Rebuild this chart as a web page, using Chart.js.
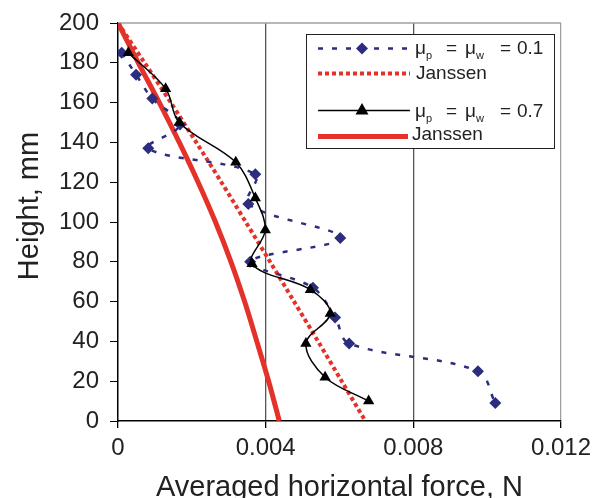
<!DOCTYPE html>
<html>
<head>
<meta charset="utf-8">
<script src="https://cdn.jsdelivr.net/npm/chart.js@4"></script>
<style>
  html, body { margin: 0; padding: 0; background: #fff; }
  #wrap { width: 595px; height: 498px; }
</style>
</head>
<body>
<div id="wrap"><canvas id="chart" width="595" height="498"></canvas></div>
<script>
// data
const heights01 = [185, 174, 162, 149, 137, 124, 109, 92, 80, 67, 52, 39, 25, 9];
const force01 = [0.0001, 0.00049, 0.00093, 0.00168, 0.00082, 0.00372, 0.00353, 0.00602, 0.00358, 0.00528, 0.00588, 0.00626, 0.00975, 0.01022];

const heights07 = [185, 167, 150, 130, 112, 96, 79, 66, 54, 39, 22, 10];
const force07 = [0.00028, 0.00129, 0.00166, 0.00319, 0.00372, 0.00399, 0.00363, 0.00521, 0.00575, 0.00509, 0.00561, 0.00679];

const janssenHeights = [200, 180, 160, 140, 120, 100, 80, 60, 40, 20, 0];
const janssen01 = [0, 0.00072, 0.00143, 0.00212, 0.0028, 0.00346, 0.00412, 0.00477, 0.00542, 0.00606, 0.0067];
const janssen07 = [0, 0.00055, 0.00112, 0.00166, 0.00217, 0.00264, 0.00306, 0.00343, 0.00376, 0.00408, 0.00437];

const xTickLabels = ['0', '0.004', '0.008', '0.012'];

const FONT = "'Liberation Sans', Arial, sans-serif";
const BLUE = '#2d2d7f';
const RED = '#e4322b';

function toPoints(xs, ys) {
  return xs.map((x, i) => ({ x: x, y: ys[i] }));
}

Chart.defaults.font.family = FONT;
Chart.defaults.color = '#222';

// top edge of the plot area
const framePlugin = {
  id: 'frame',
  beforeDatasetsDraw(chart) {
    const { ctx, chartArea: a } = chart;
    ctx.save();
    ctx.strokeStyle = '#a0a0a0';
    ctx.lineWidth = 1.5;
    ctx.beginPath();
    ctx.moveTo(a.left, a.top);
    ctx.lineTo(a.right, a.top);
    ctx.stroke();
    ctx.restore();
  }
};

// y axis title + legend box with subscripts
const overlayPlugin = {
  id: 'overlay',
  afterDraw(chart) {
    const ctx = chart.ctx;
    ctx.save();
    ctx.fillStyle = '#222';
    ctx.font = '29px ' + FONT;
    ctx.textAlign = 'center';
    ctx.textBaseline = 'middle';
    ctx.translate(30, 206);
    ctx.rotate(-Math.PI / 2);
    ctx.fillText('Height, mm', 0, 0);
    ctx.restore();

    // legend
    ctx.save();
    ctx.fillStyle = '#fff';
    ctx.fillRect(306, 34, 249, 115);
    ctx.strokeStyle = '#222';
    ctx.lineWidth = 1;
    ctx.strokeRect(306.5, 34.5, 248, 114);

    // samples
    ctx.lineCap = 'butt';
    ctx.strokeStyle = BLUE;
    ctx.lineWidth = 2.5;
    ctx.setLineDash([5, 9]);
    ctx.beginPath(); ctx.moveTo(318, 48.5); ctx.lineTo(410, 48.5); ctx.stroke();
    ctx.setLineDash([]);
    ctx.fillStyle = BLUE;
    ctx.beginPath();
    ctx.moveTo(362, 42.5); ctx.lineTo(368, 48.5); ctx.lineTo(362, 54.5); ctx.lineTo(356, 48.5);
    ctx.closePath(); ctx.fill();

    ctx.strokeStyle = RED;
    ctx.lineWidth = 4;
    ctx.setLineDash([4, 3]);
    ctx.beginPath(); ctx.moveTo(318, 73.5); ctx.lineTo(410, 73.5); ctx.stroke();
    ctx.setLineDash([]);

    ctx.strokeStyle = '#000';
    ctx.lineWidth = 1.5;
    ctx.beginPath(); ctx.moveTo(318, 110.5); ctx.lineTo(410, 110.5); ctx.stroke();
    ctx.fillStyle = '#000';
    ctx.beginPath();
    ctx.moveTo(362, 103); ctx.lineTo(368.5, 114.5); ctx.lineTo(355.5, 114.5);
    ctx.closePath(); ctx.fill();

    ctx.strokeStyle = RED;
    ctx.lineWidth = 5;
    ctx.beginPath(); ctx.moveTo(318, 136.5); ctx.lineTo(408, 136.5); ctx.stroke();

    // texts
    ctx.fillStyle = '#222';
    ctx.textAlign = 'left';
    ctx.textBaseline = 'middle';
    [[48.7, '0.1'], [112, '0.7']].forEach(([y, v]) => {
      ctx.font = '19px ' + FONT;
      ctx.fillText('\u03bc', 415, y);
      ctx.fillText('=', 446, y);
      ctx.fillText('\u03bc', 465, y);
      ctx.fillText('=', 500, y);
      ctx.fillText(v, 517, y);
      ctx.font = '11px ' + FONT;
      ctx.fillText('p', 426, y + 7);
      ctx.fillText('w', 476, y + 7);
    });
    ctx.font = '19px ' + FONT;
    ctx.fillText('Janssen', 416, 73.5);
    ctx.fillText('Janssen', 412, 134.5);
    ctx.restore();
  }
};

new Chart(document.getElementById('chart'), {
  type: 'scatter',
  data: {
    datasets: [
      {
        label: '\u03bcp = \u03bcw = 0.7',
        data: toPoints(force07, heights07),
        showLine: true,
        borderColor: '#000',
        backgroundColor: '#000',
        borderWidth: 1.5,
        tension: 0.35,
        pointStyle: 'triangle',
        pointRadius: 6.5,
        pointBorderWidth: 0
      },
      {
        label: '\u03bcp = \u03bcw = 0.1',
        data: toPoints(force01, heights01),
        showLine: true,
        borderColor: BLUE,
        backgroundColor: BLUE,
        borderWidth: 2.5,
        borderDash: [5, 9],
        tension: 0.35,
        pointStyle: 'rectRot',
        pointRadius: 6,
        pointBorderWidth: 0
      },
      {
        label: 'Janssen',
        data: toPoints(janssen01, janssenHeights),
        showLine: true,
        borderColor: RED,
        borderWidth: 4,
        borderDash: [4, 3],
        tension: 0.3,
        pointRadius: 0
      },
      {
        label: 'Janssen',
        data: toPoints(janssen07, janssenHeights),
        showLine: true,
        borderColor: RED,
        borderWidth: 5,
        tension: 0.3,
        pointRadius: 0
      }
    ]
  },
  options: {
    responsive: false,
    animation: false,
    devicePixelRatio: 1,
    layout: { padding: { top: 23, right: 34, left: 0, bottom: 0 } },
    plugins: {
      legend: { display: false },
      tooltip: { enabled: false }
    },
    scales: {
      x: {
        type: 'linear',
        min: 0,
        max: 0.012,
        afterFit: s => { s.height = 77; s.paddingLeft = 0; s.paddingRight = 0; },
        ticks: {
          stepSize: 0.004,
          autoSkip: false,
          maxRotation: 0,
          padding: 6,
          font: { size: 24 },
          callback: (v, i) => xTickLabels[i]
        },
        grid: {
          lineWidth: 1.3,
          tickLength: 7,
          tickColor: '#000',
          color: c => {
            if (!c.tick || c.tick.value === 0) return 'rgba(0,0,0,0)';
            if (Math.abs(c.tick.value - 0.012) < 1e-9) return '#a0a0a0';
            return '#555';
          }
        },
        border: { color: '#000', width: 1.5 },
        title: {
          display: true,
          text: 'Averaged horizontal force, N',
          font: { size: 29 },
          color: '#222',
          padding: { top: 0, bottom: -7 }
        }
      },
      y: {
        min: 0,
        max: 200,
        afterFit: s => { s.width = 118; s.paddingTop = 0; s.paddingBottom = 0; },
        ticks: {
          stepSize: 20,
          padding: 11,
          font: { size: 24 }
        },
        grid: {
          drawOnChartArea: false,
          tickLength: 8,
          tickColor: '#000'
        },
        border: { color: '#000', width: 1.5 }
      }
    }
  },
  plugins: [framePlugin, overlayPlugin]
});
</script>
</body>
</html>
